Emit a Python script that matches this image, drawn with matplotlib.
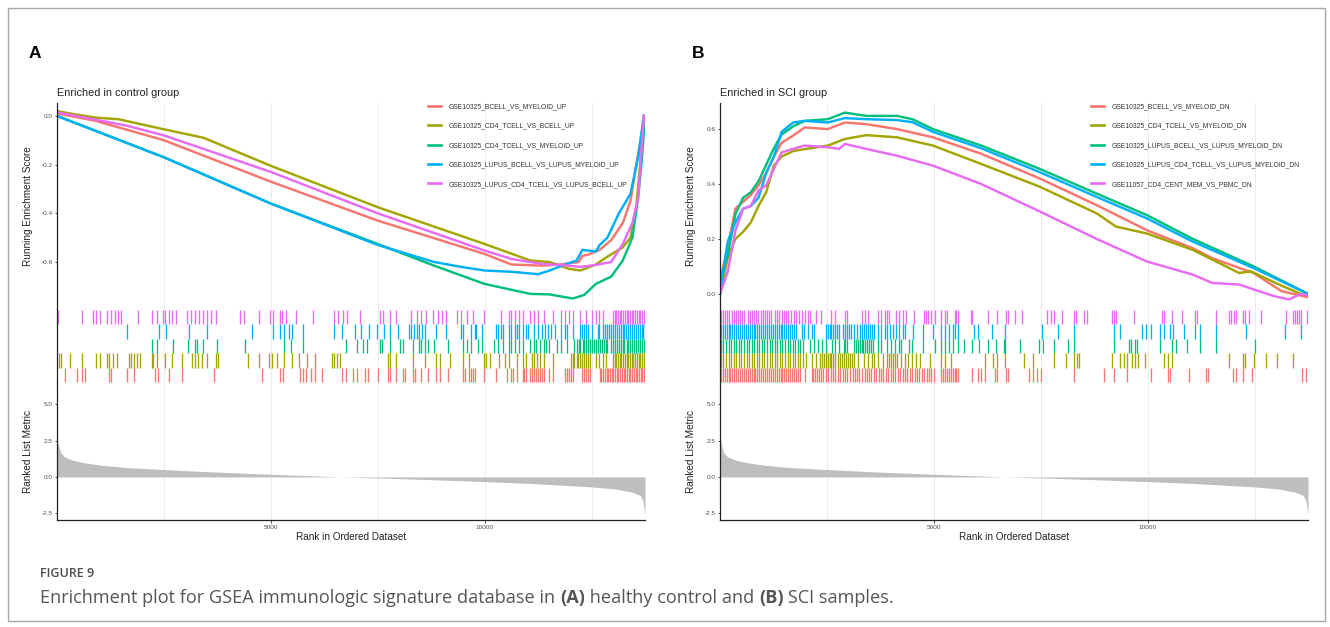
import matplotlib.pyplot as plt
from matplotlib.patches import Rectangle
from matplotlib.ticker import FixedLocator

W, H = 1330, 627
N_GENES = 13750

plt.rcParams['font.family'] = ['Liberation Sans', 'DejaVu Sans']

set_colors = ["#F8766D", "#A3A500", "#00BF7D", "#00B0F6", "#E76BF3"]

# ---------------- panel A: enriched in control group ----------------
a_names = ["GSE10325_BCELL_VS_MYELOID_UP",
           "GSE10325_CD4_TCELL_VS_BCELL_UP",
           "GSE10325_CD4_TCELL_VS_MYELOID_UP",
           "GSE10325_LUPUS_BCELL_VS_LUPUS_MYELOID_UP",
           "GSE10325_LUPUS_CD4_TCELL_VS_LUPUS_BCELL_UP"]

a_red_rank = [0, 900, 2500, 5000, 7500, 10000, 10620, 11340, 11790, 12200, 12280,
              12420, 12690, 12960, 13230, 13410, 13545, 13635, 13725]
a_red_es = [0.01, -0.02, -0.10, -0.27, -0.43, -0.567, -0.61, -0.615, -0.61, -0.60, -0.575,
            -0.57, -0.55, -0.51, -0.44, -0.35, -0.20, -0.11, 0.0]

a_olive_rank = [0, 300, 900, 1450, 2500, 3430, 5000, 7500, 10000, 11070, 11520, 11970,
                12240, 12600, 12870, 13230, 13410, 13545, 13635, 13725]
a_olive_es = [0.02, 0.01, -0.007, -0.014, -0.055, -0.09, -0.205, -0.375, -0.526, -0.594,
              -0.60, -0.628, -0.635, -0.61, -0.578, -0.54, -0.50, -0.375, -0.20, 0.0]

a_green_rank = [0, 2500, 5000, 7500, 8820, 10000, 11070, 11520, 12060, 12330, 12600,
                12960, 13230, 13455, 13590, 13680, 13750]
a_green_es = [0.0, -0.17, -0.36, -0.526, -0.615, -0.69, -0.731, -0.733, -0.75, -0.735,
              -0.69, -0.66, -0.594, -0.50, -0.336, -0.17, 0.0]

a_blue_rank = [0, 2500, 5000, 7500, 8820, 9450, 10000, 10620, 11250, 11520, 11880, 12150,
               12285, 12600, 12690, 12870, 13140, 13410, 13590, 13725]
a_blue_es = [0.0, -0.17, -0.36, -0.53, -0.60, -0.62, -0.635, -0.64, -0.65, -0.635, -0.61,
             -0.594, -0.55, -0.557, -0.53, -0.50, -0.40, -0.32, -0.17, 0.0]

a_mag_rank = [0, 1630, 2500, 5000, 7500, 10000, 10620, 11340, 11790, 12240, 12600, 12960,
              13230, 13455, 13590, 13725]
a_mag_es = [0.015, -0.04, -0.08, -0.23, -0.40, -0.553, -0.587, -0.608, -0.612, -0.62,
            -0.612, -0.60, -0.526, -0.44, -0.336, 0.0]

a_hits_red = [189, 458, 593, 656, 1223, 1268, 1627, 1807, 2301, 2364, 2616, 2931, 3677,
              4792, 5205, 5295, 5673, 5745, 5834, 5942, 6032, 6194, 6662, 6752, 6931, 7021,
              7201, 7273, 7515, 7740, 7785, 7920, 8100, 8145, 8325, 8370, 8505, 8684, 8864,
              8954, 9134, 9493, 9538, 9628, 9673, 9718, 9763, 9988, 10257, 10527, 10617,
              10662, 10752, 10887, 10932, 10977, 11067, 11112, 11157, 11202, 11247, 11292,
              11336, 11381, 11516, 11606, 11876, 11921, 11966, 12010, 12056, 12280, 12325,
              12370, 12415, 12460, 12690, 12730, 12770, 12810, 12850, 12890, 12930, 12970,
              13010, 13050, 13090, 13130, 13170, 13210, 13250, 13290, 13330, 13370, 13410,
              13450, 13490, 13530, 13570, 13610, 13650, 13690, 13730]
a_hits_olive = [54, 99, 297, 593, 908, 998, 1160, 1223, 1313, 1402, 1672, 1735, 1807, 1879,
                1942, 2212, 2256, 2346, 2526, 2688, 2931, 3155, 3227, 3290, 3380, 3515,
                3713, 3767, 4459, 4729, 4953, 5025, 5133, 5313, 5493, 5655, 5852, 6032,
                6437, 6482, 6554, 6617, 7740, 7785, 7920, 8325, 8594, 8864, 8954, 9179,
                9493, 9628, 9988, 10033, 10123, 10347, 10482, 10572, 10752, 10887, 10977,
                11112, 11157, 11228, 11292, 11381, 11606, 12010, 12060, 12100, 12150,
                12190, 12240, 12280, 12330, 12370, 12415, 12460, 12595, 12685, 12775,
                12847, 13000, 13040, 13080, 13120, 13160, 13200, 13240, 13280, 13320,
                13360, 13400, 13440, 13480, 13520, 13560, 13600, 13640, 13680, 13720]
a_hits_green = [2212, 2346, 2706, 3066, 3227, 3263, 3425, 3740, 4396, 5313, 5475, 5762,
                6752, 7021, 7156, 7246, 7560, 7605, 7785, 8028, 8082, 8325, 8460, 8505,
                8594, 8684, 8819, 9134, 9493, 9583, 9673, 9853, 9943, 10212, 10302, 10437,
                10572, 10617, 10707, 10797, 10887, 11067, 11157, 11202, 11292, 11381,
                11426, 11516, 11696, 11786, 11921, 12100, 12150, 12200, 12240, 12290,
                12330, 12380, 12420, 12470, 12510, 12560, 12600, 12650, 12690, 12740,
                12780, 12830, 12870, 12960, 13000, 13050, 13090, 13140, 13180, 13230,
                13270, 13320, 13360, 13410, 13450, 13500, 13540, 13590, 13630, 13680, 13720]
a_hits_blue = [1645, 2391, 2544, 3084, 3515, 4549, 5043, 5223, 5313, 5421, 5493, 5762,
               6482, 6662, 6976, 7111, 7291, 7489, 7650, 7785, 7965, 8235, 8280, 8352,
               8415, 8460, 8531, 8594, 8864, 9089, 9448, 9493, 9673, 9763, 9808, 9943,
               10257, 10302, 10392, 10437, 10572, 10617, 10707, 10752, 10815, 10887,
               10977, 11021, 11157, 11247, 11336, 11408, 11471, 11561, 11651, 11786,
               11876, 11921, 12056, 12235, 12280, 12325, 12370, 12415, 12505, 12640,
               12685, 12775, 12820, 12865, 12910, 12955, 13000, 13045, 13090, 13135,
               13180, 13224, 13270, 13314, 13360, 13404, 13450, 13494, 13540, 13584,
               13630, 13674, 13710, 13740]
a_hits_mag = [27, 593, 836, 908, 998, 1178, 1268, 1358, 1429, 1492, 1897, 2212, 2346,
              2481, 2526, 2616, 2688, 2778, 3048, 3138, 3227, 3317, 3407, 3497, 3605, 3713,
              4279, 4369, 4729, 4971, 5043, 5205, 5268, 5358, 5583, 5987, 6482, 6572, 6680,
              6770, 7093, 7543, 7633, 7785, 7920, 8280, 8415, 8505, 8621, 8801, 8909, 8999,
              9089, 9358, 9448, 9583, 9718, 9988, 10392, 10572, 10617, 10707, 10797, 10887,
              11067, 11157, 11247, 11381, 11606, 11786, 11876, 11966, 12056, 12235, 12370,
              12505, 12595, 12685, 12775, 13000, 13040, 13080, 13120, 13160, 13200, 13240,
              13280, 13320, 13360, 13400, 13440, 13480, 13520, 13560, 13600, 13640, 13680,
              13720]

# ---------------- panel B: enriched in SCI group ----------------
b_names = ["GSE10325_BCELL_VS_MYELOID_DN",
           "GSE10325_CD4_TCELL_VS_MYELOID_DN",
           "GSE10325_LUPUS_BCELL_VS_LUPUS_MYELOID_DN",
           "GSE10325_LUPUS_CD4_TCELL_VS_LUPUS_MYELOID_DN",
           "GSE11057_CD4_CENT_MEM_VS_PBMC_DN"]

b_red_rank = [0, 180, 360, 540, 720, 900, 1080, 1260, 1440, 1710, 1980, 2520, 2920, 3420,
              4140, 4980, 6110, 7480, 8810, 9980, 11060, 11510, 12480, 13130, 13750]
b_red_es = [0.05, 0.17, 0.31, 0.335, 0.36, 0.395, 0.44, 0.50, 0.55, 0.576, 0.606, 0.60,
            0.624, 0.618, 0.60, 0.57, 0.51, 0.42, 0.323, 0.232, 0.166, 0.13, 0.076, 0.01,
            -0.012]

b_olive_rank = [0, 180, 360, 540, 720, 900, 1080, 1260, 1440, 1710, 1980, 2520, 2920,
                3420, 4140, 4980, 6110, 7480, 8810, 9260, 9980, 11060, 12140, 12410,
                13130, 13580, 13750]
b_olive_es = [0.0, 0.13, 0.20, 0.226, 0.26, 0.32, 0.37, 0.467, 0.50, 0.52, 0.527, 0.54,
              0.564, 0.578, 0.57, 0.54, 0.473, 0.39, 0.293, 0.245, 0.22, 0.16, 0.076,
              0.082, 0.03, 0.0, -0.005]

b_green_rank = [0, 180, 360, 540, 720, 900, 1080, 1260, 1440, 1710, 1980, 2520, 2920,
                3420, 4140, 4500, 4980, 6110, 7480, 8810, 9980, 11060, 12480, 13750]
b_green_es = [0.05, 0.14, 0.29, 0.35, 0.37, 0.41, 0.47, 0.53, 0.58, 0.61, 0.63, 0.636,
              0.66, 0.648, 0.648, 0.636, 0.60, 0.54, 0.455, 0.365, 0.287, 0.20, 0.10, 0.0]

b_blue_rank = [0, 180, 360, 540, 720, 900, 1080, 1260, 1440, 1710, 1980, 2520, 2920,
               3420, 4140, 4500, 4980, 6110, 7480, 8810, 9980, 11060, 12480, 13750]
b_blue_es = [0.0, 0.19, 0.26, 0.31, 0.32, 0.35, 0.44, 0.50, 0.59, 0.624, 0.63, 0.624,
             0.64, 0.636, 0.633, 0.625, 0.59, 0.53, 0.443, 0.353, 0.275, 0.19, 0.094, 0.0]

b_mag_rank = [0, 180, 360, 540, 720, 900, 1080, 1260, 1440, 1710, 1980, 2520, 2790, 2920,
              3420, 4140, 4980, 6110, 7480, 8810, 9980, 11060, 11510, 12140, 12410, 12950,
              13310, 13580, 13750]
b_mag_es = [0.0, 0.08, 0.23, 0.31, 0.32, 0.377, 0.395, 0.455, 0.515, 0.528, 0.54, 0.534,
            0.528, 0.546, 0.528, 0.503, 0.467, 0.40, 0.30, 0.20, 0.118, 0.07, 0.04, 0.034,
            0.02, -0.008, -0.02, 0.0, -0.005]

b_hits_red = [20, 65, 110, 155, 200, 245, 290, 335, 380, 425, 470, 515, 560, 605, 650, 695,
              740, 785, 830, 875, 920, 965, 1010, 1055, 1100, 1145, 1190, 1235, 1280, 1325,
              1370, 1415, 1460, 1505, 1550, 1595, 1640, 1685, 1730, 1775, 1820, 1865, 1978,
              2140, 2185, 2230, 2275, 2320, 2365, 2410, 2472, 2530, 2590, 2650, 2700, 2760,
              2810, 2870, 2930, 2980, 3040, 3100, 3150, 3210, 3260, 3320, 3380, 3430, 3490,
              3540, 3600, 3650, 3710, 3770, 3820, 3880, 3930, 3990, 4050, 4100, 4160, 4210,
              4270, 4330, 4380, 4440, 4490, 4550, 4610, 4660, 4720, 4770, 4830, 4890, 4940,
              5000, 5169, 5214, 5259, 5304, 5349, 5394, 5439, 5484, 5529, 5574, 5888, 6023,
              6113, 6203, 6428, 6473, 6698, 6743, 7237, 7327, 7417, 7507, 8271, 8990, 9215,
              9511, 10069, 10473, 10518, 10968, 11372, 11417, 12002, 12065, 12227, 12451,
              13620, 13710]
b_hits_olive = [20, 80, 140, 200, 260, 320, 380, 440, 500, 560, 620, 680, 740, 800, 860,
                920, 980, 1040, 1100, 1160, 1220, 1280, 1340, 1400, 1460, 1520, 1580, 1640,
                1700, 1760, 1820, 1880, 1940, 2000, 2158, 2248, 2337, 2382, 2427, 2472,
                2517, 2562, 2607, 2652, 2697, 2769, 2814, 2859, 2904, 2949, 2994, 3039,
                3084, 3129, 3236, 3371, 3461, 3551, 3596, 3704, 3821, 3911, 3956, 4001,
                4045, 4090, 4135, 4225, 4315, 4405, 4495, 4585, 4675, 4900, 5169, 5259,
                5394, 6203, 6383, 6473, 6671, 7102, 7327, 7821, 8091, 8271, 8343, 8406,
                9170, 9350, 9440, 9529, 9637, 9709, 9781, 9934, 10383, 10473, 10563, 11912,
                12227, 12271, 12496, 12766, 13035, 13395]
b_hits_green = [20, 80, 140, 200, 260, 320, 380, 440, 500, 560, 620, 680, 740, 800, 860,
                920, 980, 1040, 1100, 1160, 1220, 1280, 1340, 1400, 1460, 1520, 1580, 1640,
                1700, 1760, 1820, 1880, 1940, 2113, 2203, 2293, 2382, 2472, 2625, 2697,
                2787, 2895, 2931, 2967, 3129, 3174, 3219, 3264, 3309, 3354, 3399, 3444,
                3489, 3534, 3579, 3686, 3776, 3911, 4001, 4090, 4180, 4225, 4423, 4495,
                4747, 5034, 5169, 5259, 5349, 5439, 5574, 5709, 5888, 6068, 6275, 6455,
                6635, 6671, 7012, 7462, 7552, 7803, 8136, 8271, 9215, 9575, 9619, 9709,
                9754, 10293, 10563, 10653, 10923, 11220, 11597, 12514]
b_hits_blue = [20, 65, 110, 155, 200, 245, 290, 335, 380, 425, 470, 515, 560, 605, 650,
               695, 740, 785, 830, 875, 920, 965, 1010, 1055, 1100, 1145, 1190, 1235, 1280,
               1325, 1370, 1415, 1460, 1505, 1550, 1595, 1640, 1685, 1730, 1775, 1906,
               1960, 2050, 2140, 2203, 2472, 2517, 2562, 2607, 2652, 2697, 2742, 2787,
               2877, 2922, 2967, 3012, 3057, 3129, 3192, 3281, 3326, 3371, 3416, 3461,
               3506, 3551, 3596, 3686, 3776, 3848, 3911, 3974, 4045, 4117, 4180, 4270,
               4315, 4513, 4747, 4989, 5169, 5259, 5349, 5439, 5502, 5574, 5933, 6023,
               6365, 6653, 7534, 7893, 8271, 9215, 9350, 9871, 9961, 10069, 10293, 10383,
               10518, 10590, 10860, 11103, 11220, 11597, 12298, 13215, 13575]
b_hits_mag = [20, 70, 120, 170, 220, 270, 320, 370, 420, 470, 520, 570, 650, 700, 750, 800,
              850, 900, 950, 1000, 1050, 1100, 1150, 1200, 1290, 1340, 1390, 1440, 1490,
              1540, 1600, 1663, 1720, 1780, 1843, 1906, 1978, 2050, 2113, 2248, 2355, 2607,
              2679, 2922, 2967, 3326, 3398, 3461, 3686, 3776, 3848, 3911, 3956, 4117, 4180,
              4270, 4360, 4540, 4765, 4810, 4873, 4927, 5034, 5169, 5259, 5304, 5484, 5529,
              5574, 5861, 5888, 6275, 6473, 6698, 6743, 6904, 7057, 7642, 7731, 7821, 8001,
              8271, 8316, 8523, 8585, 9170, 9215, 9260, 9691, 10339, 10383, 10563, 10806,
              11103, 11148, 11597, 11912, 11957, 12029, 12065, 12227, 12271, 12361, 12658,
              13233, 13395, 13440, 13485, 13530, 13575, 13737]

# ranked list metric (same gene ranking in both panels)
metric_rank = [0, 77, 173, 365, 654, 1038, 1615, 2500, 3442, 5000, 6231, 6615, 7500,
               8731, 10000, 11135, 12529, 13058, 13442, 13635, 13700, 13750]
metric_val = [2.66, 1.74, 1.39, 1.16, 0.97, 0.81, 0.65, 0.51, 0.37, 0.185, 0.05, 0.0,
              -0.07, -0.185, -0.32, -0.46, -0.69, -0.83, -1.04, -1.27, -1.62, -2.66]

TXT = "#4d4d4d"
GRID = "#ebebeb"


def rect(x0, y0, x1, y1):
    return [x0 / W, 1 - y1 / H, (x1 - x0) / W, (y1 - y0) / H]


def style_axis(ax):
    for side in ("top", "right"):
        ax.spines[side].set_visible(False)
    ax.spines["left"].set_color("#222222")
    ax.spines["left"].set_linewidth(0.9)
    ax.set_xlim(0, N_GENES)
    ax.xaxis.set_major_locator(FixedLocator([5000, 10000]))
    ax.xaxis.set_minor_locator(FixedLocator([2500, 7500, 12500]))
    for x in (2500, 5000, 7500, 10000, 12500):
        ax.axvline(x, color=GRID, lw=0.7, zorder=0)
    ax.tick_params(axis="both", labelsize=4.6, labelcolor=TXT, length=1.8,
                   width=0.6, pad=1.5, color="#333333")
    ax.tick_params(axis="x", which="minor", length=0)


def draw_panel(x0, letter, title, names, curves, hits, ylim, yticks):
    x1 = x0 + 588
    fig.text((x0 - 28) / W, 1 - 58 / H, letter, fontsize=12.5, fontweight="bold",
             color="black", va="baseline")
    fig.text(x0 / W, 1 - 96 / H, title, fontsize=7.8, color="#222222", va="baseline")

    # running enrichment score
    ax1 = fig.add_axes(rect(x0, 103, x1, 309))
    style_axis(ax1)
    ax1.spines["bottom"].set_visible(False)
    for (rk, es), col, name in zip(curves, set_colors, names):
        ax1.plot(rk, es, color=col, lw=1.75, label=name, solid_joinstyle="round")
    ax1.set_ylim(*ylim)
    ax1.set_yticks(yticks)
    ax1.set_yticklabels([f"{v:.1f}" for v in yticks])
    ax1.tick_params(axis="x", which="both", length=0, labelbottom=False)
    ax1.set_ylabel("Running Enrichment Score", fontsize=7.2, color="#222222")
    ax1.yaxis.set_label_coords(-0.041, 0.5)
    leg = ax1.legend(loc="upper left", bbox_to_anchor=((x0 + 371) / W, 1 - 103 / H),
                     bbox_transform=fig.transFigure, frameon=False,
                     handlelength=2.0, handletextpad=1.1, labelspacing=1.85,
                     borderpad=0, borderaxespad=0, prop={"size": 4.85})
    for t in leg.get_texts():
        t.set_color("#333333")
    for h in leg.get_lines():
        h.set_linewidth(1.9)

    # gene set hits, one row per set (first set at the bottom)
    ax2 = fig.add_axes(rect(x0, 309, x1, 383))
    style_axis(ax2)
    ax2.spines["bottom"].set_visible(False)
    for i, (hh, col) in enumerate(zip(hits, set_colors)):
        ax2.vlines(hh, i, i + 1, color=col, lw=0.95)
    ax2.set_ylim(-0.07, 5.07)
    ax2.set_yticks([])
    ax2.tick_params(axis="x", which="both", length=0, labelbottom=False)

    # ranked list metric
    ax3 = fig.add_axes(rect(x0, 383, x1, 520))
    style_axis(ax3)
    ax3.spines["bottom"].set_color("#222222")
    ax3.spines["bottom"].set_linewidth(0.9)
    ax3.fill_between(metric_rank, 0, metric_val, color="#bebebe", lw=0)
    ax3.set_ylim(-2.97, 6.48)
    ax3.set_yticks([-2.5, 0.0, 2.5, 5.0])
    ax3.set_yticklabels(["-2.5", "0.0", "2.5", "5.0"])
    ax3.set_xticklabels(["5000", "10000"])
    ax3.set_ylabel("Ranked List Metric", fontsize=7.2, color="#222222")
    ax3.yaxis.set_label_coords(-0.041, 0.5)
    ax3.set_xlabel("Rank in Ordered Dataset", fontsize=7.2, color="#222222")
    ax3.xaxis.set_label_coords(0.5, -0.085)


fig = plt.figure(figsize=(W / 100, H / 100), dpi=100)
fig.patches.append(Rectangle((8 / W, 6 / H), 1317 / W, 613 / H, transform=fig.transFigure,
                             fill=False, edgecolor="#a6a6a6", lw=1.0))

a_curves = [(a_red_rank, a_red_es), (a_olive_rank, a_olive_es), (a_green_rank, a_green_es),
            (a_blue_rank, a_blue_es), (a_mag_rank, a_mag_es)]
a_hits = [a_hits_red, a_hits_olive, a_hits_green, a_hits_blue, a_hits_mag]
draw_panel(57, "A", "Enriched in control group", a_names, a_curves, a_hits,
           (-0.793, 0.053), [-0.6, -0.4, -0.2, 0.0])

b_curves = [(b_red_rank, b_red_es), (b_olive_rank, b_olive_es), (b_green_rank, b_green_es),
            (b_blue_rank, b_blue_es), (b_mag_rank, b_mag_es)]
b_hits = [b_hits_red, b_hits_olive, b_hits_green, b_hits_blue, b_hits_mag]
draw_panel(720, "B", "Enriched in SCI group", b_names, b_curves, b_hits,
           (-0.055, 0.695), [0.0, 0.2, 0.4, 0.6])

# figure caption, with bold panel references
fig.text(40 / W, 1 - 577 / H, "FIGURE 9", fontsize=9, color="#4d4d4d",
         fontweight="semibold", family=["Open Sans", "DejaVu Sans"], va="baseline")
cap_parts = [("Enrichment plot for GSEA immunologic signature database in ", "normal"),
             ("(A)", "bold"), (" healthy control and ", "normal"), ("(B)", "bold"),
             (" SCI samples.", "normal")]
renderer = fig.canvas.get_renderer()
x = 40 / W
for txt, wt in cap_parts:
    t = fig.text(x, 1 - 603 / H, txt, fontsize=13.05, color="#555555", fontweight=wt,
                 family=["Open Sans", "DejaVu Sans"], va="baseline")
    bb = t.get_window_extent(renderer=renderer)
    x = bb.x1 / W

fig.savefig("out.png", dpi=100)
